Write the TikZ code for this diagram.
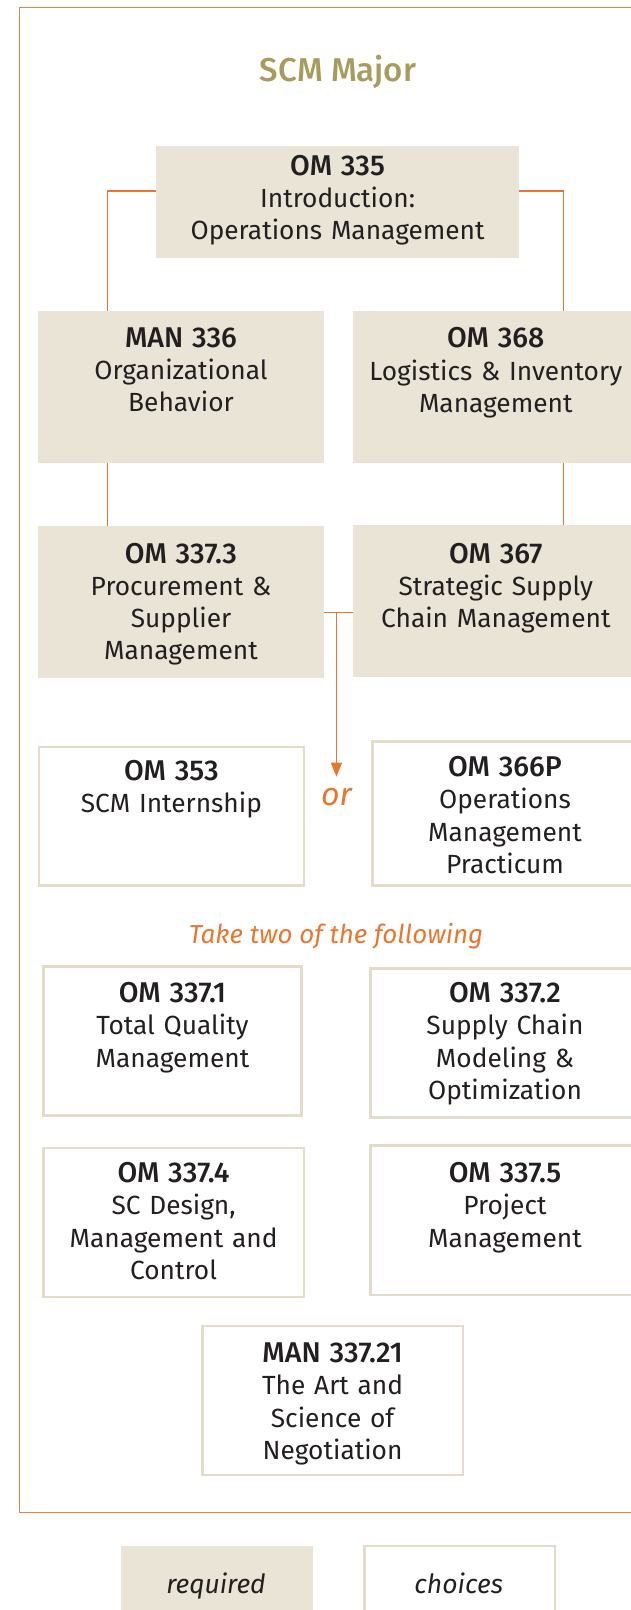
\documentclass[tikz,border=0pt]{standalone}
\usepackage{fontspec}
\setmainfont{Fira Sans}[BoldFont={Fira Sans Medium}]
\usetikzlibrary{arrows.meta}
\definecolor{reqfill}{HTML}{E9E4D5}
\definecolor{chborder}{HTML}{E2DCC9}
\definecolor{lineorange}{HTML}{E8772E}
\definecolor{frameorange}{HTML}{EA8240}
\definecolor{titlegold}{HTML}{A89B5E}
\definecolor{textdark}{HTML}{231F20}
\newcommand{\hd}[1]{{\fontsize{28.6}{32.2}\selectfont\bfseries #1}}
\begin{document}
\begin{tikzpicture}[x=1pt,y=-1pt,
  reqbox/.style={fill=reqfill, draw=none, inner sep=0pt, outer sep=0pt, anchor=north west},
  chbox/.style={fill=white, draw=chborder, line width=2.3pt, inner sep=0pt, outer sep=0pt, anchor=north west},
  boxtext/.style={anchor=base, align=center, text=textdark, inner sep=0pt, text width=250pt, font=\fontsize{26.3}{32.2}\selectfont},
  orangetext/.style={anchor=base, text=lineorange, inner sep=0pt},
  conn/.style={draw=lineorange, line width=1.4pt},
]
\useasboundingbox (0,0) rectangle (631,1610);
\clip (0,0) rectangle (631,1610);
% frame
\draw[draw=frameorange, line width=1.5pt] (19.3,7.3) rectangle (700,1512.5);
% title
\node[anchor=base, text=titlegold, inner sep=0pt, font=\fontsize{33}{40}\selectfont\bfseries] (title) at (338,81) {SCM Major};
% required boxes
\node[reqbox, minimum width=363pt, minimum height=111.7pt] (om335) at (156.1,146) {};
\node[reqbox, minimum width=286.2pt, minimum height=151.7pt] (man336) at (37.8,311) {};
\node[reqbox, minimum width=285.8pt, minimum height=151.7pt] (om368) at (352.9,311) {};
\node[reqbox, minimum width=286.2pt, minimum height=151.7pt] (om3373) at (37.8,526) {};
\node[reqbox, minimum width=285.8pt, minimum height=151.7pt] (om367) at (352.9,525) {};
% choice boxes
\node[chbox, minimum width=264.8pt, minimum height=138.6pt] (om353) at (39,746.9) {};
\node[chbox, minimum width=266.2pt, minimum height=144pt] (om366p) at (372.6,741.5) {};
\node[chbox, minimum width=257.9pt, minimum height=149pt] (om3371) at (43.5,966.5) {};
\node[chbox, minimum width=268.8pt, minimum height=149pt] (om3372) at (370.6,968.5) {};
\node[chbox, minimum width=260.3pt, minimum height=149.2pt] (om3374) at (43.5,1147.9) {};
\node[chbox, minimum width=268.8pt, minimum height=149.3pt] (om3375) at (370.6,1145.5) {};
\node[chbox, minimum width=260.4pt, minimum height=148.9pt] (man33721) at (202.4,1325.9) {};
% legend boxes
\node[reqbox, minimum width=192pt, minimum height=100pt] (legreq) at (121,1545.7) {};
\node[chbox, minimum width=190.7pt, minimum height=100pt] (legch) at (364.6,1546.2) {};
% texts
\node[boxtext, text width=360pt] (om335t) at (337.6,175) {\hd{OM 335}\\Introduction:\\Operations Management};
\node[boxtext, text width=286pt] (man336t) at (181,347.3) {\hd{MAN 336}\\Organizational\\Behavior};
\node[boxtext, text width=286pt] (om368t) at (495.8,347.8) {\hd{OM 368}\\Logistics \& Inventory\\Management};
\node[boxtext, text width=286pt] (om3373t) at (181,563.3) {\hd{OM 337.3}\\Procurement \&\\Supplier\\Management};
\node[boxtext, text width=286pt] (om367t) at (495.8,563.3) {\hd{OM 367}\\Strategic Supply\\Chain Management};
\node[boxtext] (om353t) at (171.4,780) {\hd{OM 353}\\SCM Internship};
\node[boxtext] (om366pt) at (505,776.7) {\hd{OM 366P}\\Operations\\Management\\Practicum};
\node[boxtext] (om3371t) at (172.5,1002.7) {\hd{OM 337.1}\\Total Quality\\Management};
\node[boxtext] (om3372t) at (505,1002.7) {\hd{OM 337.2}\\Supply Chain\\Modeling \&\\Optimization};
\node[boxtext] (om3374t) at (173.6,1182.7) {\hd{OM 337.4}\\SC Design,\\Management and\\Control};
\node[boxtext] (om3375t) at (505,1182.7) {\hd{OM 337.5}\\Project\\Management};
\node[boxtext] (man33721t) at (332.6,1362.7) {\hd{MAN 337.21}\\The Art and\\Science of\\Negotiation};
\node[orangetext, font=\fontsize{32}{38}\selectfont\itshape] (or) at (336.4,805) {or};
\node[orangetext, font=\fontsize{26}{32}\selectfont\itshape] (taketwo) at (336,943) {Take two of the following};
\node[anchor=base, inner sep=0pt, text=textdark, font=\fontsize{26.5}{32}\selectfont\itshape] (reqt) at (216,1593) {required};
\node[anchor=base, inner sep=0pt, text=textdark, font=\fontsize{26.5}{32}\selectfont\itshape] (cht) at (458.7,1593) {choices};
% connectors
\coordinate (cl) at (107.4,191);
\coordinate (cr) at (563.4,191);
\draw[conn] (om335.west |- cl) -| (cl |- man336.north);
\draw[conn] (om335.east |- cr) -| (cr |- om368.north);
\draw[conn] (cl |- man336.south) -- (cl |- om3373.north);
\draw[conn] (cr |- om368.south) -- (cr |- om367.north);
\coordinate (j) at (336.4,612.3);
\coordinate (tip) at (336.4,776.7);
\draw[conn] (j -| om3373.east) -- (j -| om367.west);
\draw[conn, -{Triangle[width=11pt,length=14pt]}] (j) -- (tip);
\end{tikzpicture}
\end{document}
